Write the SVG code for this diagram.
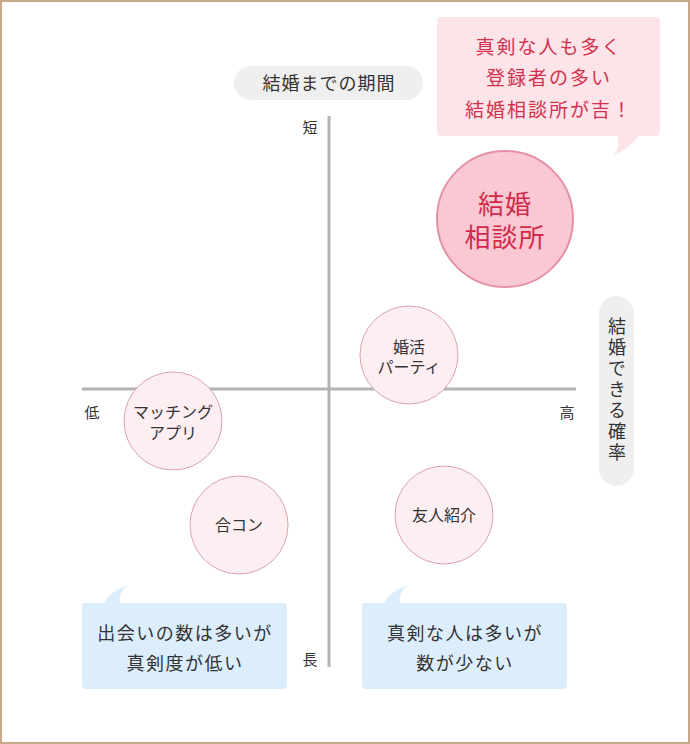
<svg xmlns="http://www.w3.org/2000/svg" width="690" height="744" viewBox="0 0 690 744">
<style>
text{font-family:"Noto Sans CJK JP","Noto Sans",sans-serif;fill:#333;text-anchor:middle}
.axis{stroke:#b3b3b3;stroke-width:3;fill:none}
.node{fill:#fdeef1;stroke:#d9a3af;stroke-width:1}
.nt{font-size:16px}
.lbl{font-size:15px}
.blue{fill:#dcedfb}
.bt{font-size:18px;letter-spacing:1.5px}
.pt{font-size:19px;letter-spacing:2px;fill:#d4304e}
</style>
<rect x="1" y="1" width="688" height="742" fill="#fff" stroke="#c9a887" stroke-width="2"/>
<g id="connectors">
<line class="axis" x1="329" y1="116" x2="329" y2="667"/>
<line class="axis" x1="82" y1="389" x2="576" y2="389"/>
</g>
<g id="axis-labels">
<text class="lbl" x="310" y="133">短</text>
<text class="lbl" x="310" y="665">長</text>
<text class="lbl" x="92" y="418">低</text>
<text class="lbl" x="567" y="418">高</text>
</g>
<g id="title-period">
<rect x="234" y="66" width="189" height="34" rx="17" fill="#efefef"/>
<text x="329" y="90" style="font-size:18px;letter-spacing:1px">結婚までの期間</text>
</g>
<g id="title-prob">
<rect x="599" y="296" width="35" height="190" rx="17.5" fill="#efefef"/>
<text x="617" y="391" style="font-size:18px;letter-spacing:3px;writing-mode:vertical-rl">結婚できる確率</text>
</g>
<g id="bubble-pink">
<path d="M617 134 C620 144 618 150 613 155 C624 151 634 144 639 134 Z" fill="#fde4e9"/>
<rect x="437" y="17" width="223" height="119" rx="4" fill="#fde4e9"/>
<text class="pt" x="549" y="54">真剣な人も多く<tspan x="549" dy="31">登録者の多い</tspan><tspan x="549" dy="32">結婚相談所が吉！</tspan></text>
</g>
<g id="node-soudansho">
<circle cx="505" cy="219" r="68" fill="#f9c8d2" stroke="#e391a6" stroke-width="2"/>
<text x="505" y="214" style="font-size:26px;letter-spacing:1px;fill:#d22a4b">結婚<tspan x="505" dy="33">相談所</tspan></text>
</g>
<g id="node-party">
<circle class="node" cx="409" cy="355" r="49"/>
<text class="nt" x="409" y="353">婚活<tspan x="409" dy="20">パーティ</tspan></text>
</g>
<g id="node-app">
<circle class="node" cx="173" cy="421" r="49"/>
<text class="nt" x="173" y="418">マッチング<tspan x="173" dy="21">アプリ</tspan></text>
</g>
<g id="node-goukon">
<circle class="node" cx="239" cy="525" r="49"/>
<text class="nt" x="239" y="531">合コン</text>
</g>
<g id="node-friend">
<circle class="node" cx="444" cy="515" r="49"/>
<text class="nt" x="444" y="521">友人紹介</text>
</g>
<g id="bubble-left">
<path d="M103 605 C108 595 116 589 128 585 C121 591 119 597 120 605 Z" class="blue"/>
<rect x="82" y="603" width="205" height="86" rx="3" class="blue"/>
<text class="bt" x="185" y="640">出会いの数は多いが<tspan x="185" dy="30">真剣度が低い</tspan></text>
</g>
<g id="bubble-right">
<path d="M383 605 C388 595 396 589 408 585 C401 591 399 597 400 605 Z" class="blue"/>
<rect x="362" y="603" width="205" height="86" rx="3" class="blue"/>
<text class="bt" x="465" y="640">真剣な人は多いが<tspan x="465" dy="30">数が少ない</tspan></text>
</g>
</svg>
